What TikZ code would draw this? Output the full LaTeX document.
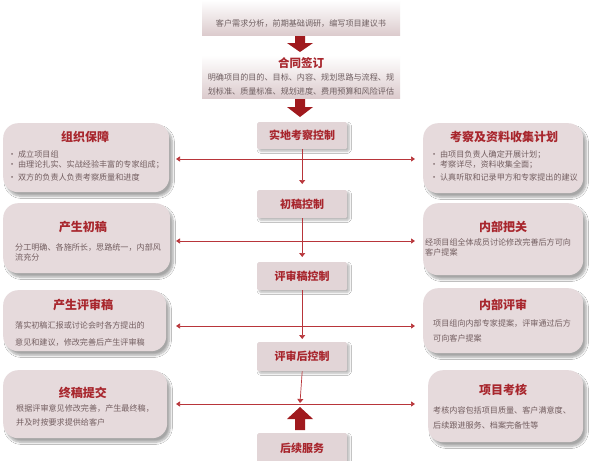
\documentclass[tikz,border=0pt]{standalone}
\usepackage{fontspec}
\setmainfont{Noto Sans CJK SC}
\usetikzlibrary{arrows.meta,shadows.blur,calc}
\definecolor{dred}{HTML}{A8262D}
\definecolor{lred}{HTML}{B8353A}
\definecolor{arrowred}{HTML}{A01A1E}
\definecolor{boxfill}{HTML}{E6DADC}
\definecolor{cfill}{HTML}{E2D5D7}
\definecolor{tfill}{HTML}{DCCBCD}
\definecolor{bodytxt}{HTML}{735E60}
\definecolor{toptxt}{HTML}{6E5E60}
\begin{document}
\begin{tikzpicture}[x=1pt,y=-1pt,
  sidebox/.style={fill=boxfill, rounded corners=15pt, inner sep=0pt, anchor=north west,
    blur shadow={shadow xshift=3pt, shadow yshift=-4pt, shadow blur steps=8, shadow opacity=35}},
  cbox/.style={fill=cfill, rounded corners=1.5pt, inner sep=0pt, anchor=north west,
    minimum width=90pt, text=dred, font=\fontsize{11}{13}\selectfont\bfseries,
    blur shadow={shadow xshift=2pt, shadow yshift=-2pt, shadow blur steps=5, shadow opacity=30}},
  topbox/.style={top color=white, bottom color=tfill, inner sep=0pt, anchor=north west,
    minimum width=198pt},
  stitle/.style={text=dred, font=\fontsize{12}{14}\selectfont\bfseries, inner sep=0pt},
  sbody/.style={text=bodytxt, font=\fontsize{8.1}{10}\selectfont, inner sep=0pt, anchor=west},
  ttxt/.style={text=toptxt, font=\fontsize{8.1}{10}\selectfont, inner sep=0pt},
  link/.style={draw=lred, line width=0.7pt},
  tip/.style={-{Triangle[width=6pt,length=4pt]}},
  bigarrow/.style={fill=arrowred}
]
\useasboundingbox (0,0) rectangle (590,461);
\fill[white] (0,0) rectangle (590,461);

% top boxes
\node[topbox, minimum height=35pt] (t1) at (202,0) {};
\node[ttxt] (t1txt) at (301,23) {客户需求分析，前期基础调研，编写项目建议书};
\node[topbox, minimum height=43pt] (t2) at (202,55) {};
\node[text=dred, font=\fontsize{11.5}{13}\selectfont\bfseries, inner sep=0pt] (t2title) at (301,63) {合同签订};
\node[ttxt] (t2a) at (301,77) {明确项目的目的、目标、内容、规划思路与流程、规};
\node[ttxt] (t2b) at (301,91) {划标准、质量标准、规划进度、费用预算和风险评估};

% big arrows
\fill[bigarrow] (295,36) -- (305,36) -- (305,43) -- (313,43) -- (300,52) -- (287,43) -- (295,43) -- cycle;
\fill[bigarrow] (295,99) -- (305,99) -- (305,107) -- (313,107) -- (300,117) -- (287,107) -- (295,107) -- cycle;

% centre boxes
\node[cbox, minimum height=27pt] (c1) at (257,122) {实地考察控制};
\node[cbox, minimum height=28pt] (c2) at (257,190) {初稿控制};
\node[cbox, minimum height=28pt] (c3) at (257,262) {评审稿控制};
\node[cbox, minimum height=29pt] (c4) at (257,342) {评审后控制};
\node[cbox, minimum height=30pt] (c5) at (257,433) {后续服务};

% up arrow
\fill[bigarrow] (295,430) -- (305,430) -- (305,419) -- (313,419) -- (300,407) -- (287,419) -- (295,419) -- cycle;

% side boxes
\node[sidebox, minimum width=166pt, minimum height=69pt] (L1) at (3,123) {};
\node[sidebox, minimum width=160pt, minimum height=70pt] (R1) at (423,123) {};
\node[sidebox, minimum width=167pt, minimum height=70pt] (L2) at (3,203) {};
\node[sidebox, minimum width=160pt, minimum height=72pt] (R2) at (423,203) {};
\node[sidebox, minimum width=163pt, minimum height=61pt] (L3) at (3,290) {};
\node[sidebox, minimum width=160pt, minimum height=65pt] (R3) at (423,288) {};
\node[sidebox, minimum width=164pt, minimum height=68pt] (L4) at (3,370) {};
\node[sidebox, minimum width=155pt, minimum height=72pt] (R4) at (428,370) {};

% side box texts
\node[stitle] (L1t) at (85,137) {组织保障};
\node[sbody] (L1a) at (8,154) {· 成立项目组};
\node[sbody] (L1b) at (8,165) {· 由理论扎实、实战经验丰富的专家组成；};
\node[sbody] (L1c) at (8,177) {· 双方的负责人负责考察质量和进度};

\node[stitle] (R1t) at (504,137) {考察及资料收集计划};
\node[sbody] (R1a) at (430,155) {· 由项目负责人确定开展计划；};
\node[sbody] (R1b) at (430,165) {· 考察详尽，资料收集全面；};
\node[sbody] (R1c) at (430,177) {· 认真听取和记录甲方和专家提出的建议};

\node[stitle] (L2t) at (83,227) {产生初稿};
\node[sbody] (L2a) at (15,247) {分工明确、各施所长，思路统一，内部风};
\node[sbody] (L2b) at (15,257) {流充分};

\node[stitle] (R2t) at (503,227) {内部把关};
\node[sbody] (R2a) at (425,242) {经项目组全体成员讨论修改完善后方可向};
\node[sbody] (R2b) at (425,252) {客户提案};

\node[stitle] (L3t) at (83,305) {产生评审稿};
\node[sbody] (L3a) at (15,325) {落实初稿汇报或讨论会时各方提出的};
\node[sbody] (L3b) at (15,342) {意见和建议，修改完善后产生评审稿};

\node[stitle] (R3t) at (503,305) {内部评审};
\node[sbody] (R3a) at (433,323) {项目组向内部专家提案，评审通过后方};
\node[sbody] (R3b) at (433,338) {可向客户提案};

\node[stitle] (L4t) at (83,393) {终稿提交};
\node[sbody] (L4a) at (16,408) {根据评审意见修改完善，产生最终稿，};
\node[sbody] (L4b) at (16,422) {并及时按要求提供给客户};

\node[stitle] (R4t) at (503,390) {项目考核};
\node[sbody] (R4a) at (433,410) {考核内容包括项目质量、客户满意度、};
\node[sbody] (R4b) at (433,425) {后续跟进服务、档案完备性等};

% horizontal connectors
\coordinate (h1l) at (176,159); \coordinate (h1r) at (415,159);
\coordinate (h2l) at (176,241); \coordinate (h2r) at (415,241);
\coordinate (h3l) at (176,326); \coordinate (h3r) at (415,326);
\coordinate (h4l) at (176,404); \coordinate (h4r) at (415,404);
\draw[link, {Triangle[width=5pt,length=4pt]}-{Triangle[width=5pt,length=4pt]}] (h1l) -- (h1r);
\draw[link, {Triangle[width=5pt,length=4pt]}-{Triangle[width=5pt,length=4pt]}] (h2l) -- (h2r);
\draw[link, {Triangle[width=5pt,length=4pt]}-{Triangle[width=5pt,length=4pt]}] (h3l) -- (h3r);
\draw[link, {Triangle[width=5pt,length=4pt]}-{Triangle[width=5pt,length=4pt]}] (h4l) -- (h4r);

% vertical connectors
\coordinate (v4end) at (300,403);
\draw[link, tip, shorten >=6pt] (c1.south) -- (c2.north);
\draw[link, tip, shorten >=5pt] (c2.south) -- (c3.north);
\draw[link, tip, shorten >=3pt] (c3.south) -- (c4.north);
\draw[link, tip] (c4.south) -- (v4end);
\end{tikzpicture}
\end{document}
